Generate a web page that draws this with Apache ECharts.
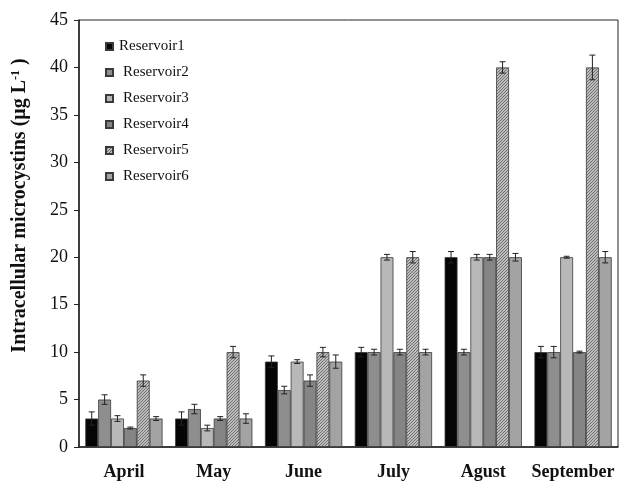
<!DOCTYPE html>
<html><head><meta charset="utf-8">
<script src="https://cdn.jsdelivr.net/npm/echarts@6/dist/echarts.min.js"></script>
<style>html,body{margin:0;padding:0;background:#fff}#c{width:620px;height:481px}</style>
</head><body><div id="c"></div>
<script>
const months = ['April', 'May', 'June', 'July', 'Agust', 'September'];
const seriesNames = ['Reservoir1', 'Reservoir2', 'Reservoir3', 'Reservoir4', 'Reservoir5', 'Reservoir6'];
const reservoir1 = [3, 3, 9, 10, 20, 10];
const reservoir2 = [5, 4, 6, 10, 10, 10];
const reservoir3 = [3, 2, 9, 20, 20, 20];
const reservoir4 = [2, 3, 7, 10, 20, 10];
const reservoir5 = [7, 10, 10, 20, 40, 40];
const reservoir6 = [3, 3, 9, 10, 20, 20];
const err1 = [0.7, 0.7, 0.6, 0.5, 0.6, 0.6];
const err2 = [0.5, 0.5, 0.4, 0.3, 0.3, 0.6];
const err3 = [0.3, 0.3, 0.2, 0.3, 0.3, 0.1];
const err4 = [0.1, 0.2, 0.6, 0.3, 0.3, 0.1];
const err5 = [0.6, 0.6, 0.5, 0.6, 0.6, 1.3];
const err6 = [0.2, 0.5, 0.7, 0.3, 0.4, 0.6];
const yTicks = [0, 5, 10, 15, 20, 25, 30, 35, 40, 45];

const values = [reservoir1, reservoir2, reservoir3, reservoir4, reservoir5, reservoir6];
const errors = [err1, err2, err3, err4, err5, err6];

function hatch() {
  const c = document.createElement('canvas');
  c.width = 3; c.height = 3;
  const g = c.getContext('2d');
  g.fillStyle = '#bdbdbd'; g.fillRect(0, 0, 3, 3);
  g.fillStyle = '#707070';
  for (let i = 0; i < 3; i++) { g.fillRect(i, 2 - i, 1, 1); }
  return c;
}
const hatchImg = hatch();
const colors = ['#050505', '#8e8e8e', '#b8b8b8', '#858585', {image: hatchImg, repeat: 'repeat'}, '#a3a3a3'];

const catGap = 0.14;
const nSeries = 6;
const series = [];
seriesNames.forEach((name, i) => {
  series.push({
    name: name, type: 'bar', data: values[i],
    barGap: '0%', barCategoryGap: (catGap * 100) + '%',
    itemStyle: {color: colors[i], borderColor: '#3a3a3a', borderWidth: 0.8},
    z: 2
  });
});
seriesNames.forEach((name, i) => {
  series.push({
    type: 'custom', name: name + ' err',
    data: values[i].map((v, j) => [j, v - errors[i][j], v + errors[i][j]]),
    z: 5,
    renderItem: function (params, api) {
      const band = api.size([1, 0])[0];
      const bw = band * (1 - catGap) / nSeries;
      const off = -band * (1 - catGap) / 2 + bw * (i + 0.5);
      const lo = api.coord([api.value(0), api.value(1)]);
      const hi = api.coord([api.value(0), api.value(2)]);
      const x = lo[0] + off;
      const cap = 3;
      const st = {stroke: '#222', lineWidth: 1};
      return {type: 'group', children: [
        {type: 'line', shape: {x1: x, y1: lo[1], x2: x, y2: hi[1]}, style: st},
        {type: 'line', shape: {x1: x - cap, y1: lo[1], x2: x + cap, y2: lo[1]}, style: st},
        {type: 'line', shape: {x1: x - cap, y1: hi[1], x2: x + cap, y2: hi[1]}, style: st}
      ]};
    },
    encode: {x: 0, y: [1, 2]},
    tooltip: {show: false}
  });
});

const chart = echarts.init(document.getElementById('c'), null, {renderer: 'canvas'});
chart.setOption({
  animation: false,
  backgroundColor: '#fff',
  grid: {left: 79, right: 2, top: 20, bottom: 33, show: true, borderColor: '#222', borderWidth: 1, backgroundColor: 'transparent'},
  legend: {
    show: true, orient: 'vertical', left: 100, top: 34, itemGap: 11,
    itemWidth: 7, itemHeight: 7, icon: 'rect',
    data: seriesNames,
    formatter: n => n === 'Reservoir1' ? '{a|' + n + '}' : '{b|' + n + '}',
    textStyle: {fontFamily: 'Liberation Serif', fontSize: 15, color: '#111',
      rich: {
        a: {fontFamily: 'Liberation Serif', fontSize: 15, color: '#111', padding: [0, 0, 0, 1]},
        b: {fontFamily: 'Liberation Serif', fontSize: 15, color: '#111', padding: [0, 0, 0, 5]}
      }}
  },
  xAxis: {
    type: 'category', data: months,
    axisLine: {lineStyle: {color: '#222', width: 1.5}},
    axisTick: {show: false},
    axisLabel: {fontFamily: 'Liberation Serif', fontWeight: 'bold', fontSize: 18, color: '#111', margin: 16, interval: 0}
  },
  yAxis: {
    type: 'value', min: 0, max: 45, interval: 5,
    axisLine: {show: true, lineStyle: {color: '#222', width: 1.5}},
    axisTick: {show: true, length: 5, inside: false, lineStyle: {color: '#222'}},
    splitLine: {show: false},
    axisLabel: {fontFamily: 'Liberation Serif', fontSize: 18, color: '#111', margin: 11,
      formatter: v => yTicks.includes(v) ? String(v) : ''},
    name: '{a|Intracellular microcystins (μg L}{s|-1}{a| )}',
    nameLocation: 'middle', nameGap: 49, nameRotate: 90,
    nameTextStyle: {padding: [0, 0, 0, 56], rich: {
      a: {fontFamily: 'Liberation Serif', fontWeight: 'bold', fontSize: 20, color: '#111'},
      s: {fontFamily: 'Liberation Serif', fontWeight: 'bold', fontSize: 12, color: '#111', verticalAlign: 'top', padding: [0, 0, 8, 0]}
    }}
  },
  series: series
});
</script></body></html>
